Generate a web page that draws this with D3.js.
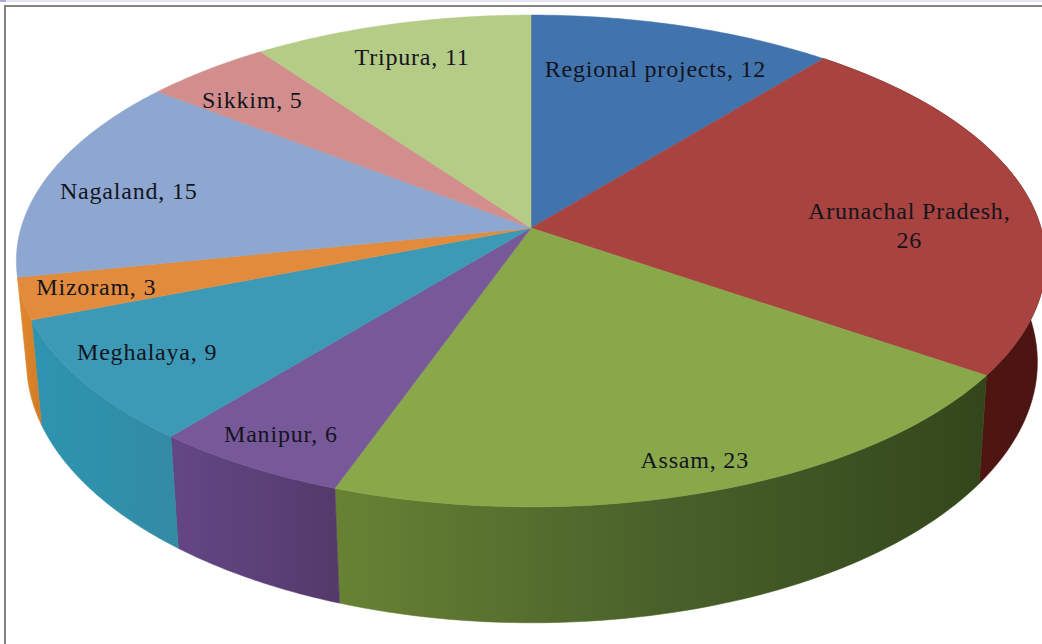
<!DOCTYPE html>
<html><head><meta charset="utf-8">
<script src="https://cdn.jsdelivr.net/npm/d3@7/dist/d3.min.js"></script>
<style>html,body{margin:0;padding:0;background:#fff;overflow:hidden}svg{display:block}</style>
</head><body><div id="chart"></div>
<script>
const categories = ["Regional projects","Arunachal Pradesh","Assam","Manipur","Meghalaya","Mizoram","Nagaland","Sikkim","Tripura"];
const values = [12,26,23,6,9,3,15,5,11];
const topColors = ["#4173ad","#a8433f","#88a84a","#77599a","#3d9ab6","#e28b3c","#8da7d0","#d18e8c","#b5cc87"];
const sideLeft = ["#2f5078","#5a1a16","#688234","#634684","#2f94b0","#e0892f","#8da7d0","#d18e8c","#b5cc87"];
const sideMid = ["#2f5078","#52170f","#48612a","#5c4078","#2f90aa","#d98229","#8da7d0","#d18e8c","#b5cc87"];
const sideRight = ["#2f5078","#4a1412","#33461b","#54396a","#338aa3","#d07a28","#8da7d0","#d18e8c","#b5cc87"];
const labelLines = [["Regional projects, 12"],["Arunachal Pradesh,","26"],["Assam, 23"],["Manipur, 6"],["Meghalaya, 9"],["Mizoram, 3"],["Nagaland, 15"],["Sikkim, 5"],["Tripura, 11"]];
const labelNudge = [[7,-3],[5,23],[33,42],[-44,33],[-55,11],[-57,6],[-38,3],[-30,-7],[-11,-14]];

const W=1042,H=644;
const svg=d3.select("#chart").append("svg").attr("width",W).attr("height",H);
const defs=svg.append("defs");

// perspective view of a circular disc
const cx=531,cy=228,a=510,b=241.5,k=0.134;
function project(theta,r=1){
  const d=1+k*r*Math.cos(theta);
  return [cx+a*r*Math.sin(theta)/d, cy-b*r*Math.cos(theta)/d];
}
function projectBottom(theta){
  const [x,y]=project(theta);
  return [532+0.982*(x-531), y+108+0.06*(y-375)];
}
const pie=d3.pie().sort(null).value(d=>d)(values);
const line=d3.line();
const rim=(s,f)=>d3.range(0,61).map(i=>f(s.startAngle+(s.endAngle-s.startAngle)*i/60));

// background + frame
svg.append("rect").attr("width",W).attr("height",H).attr("fill","#fff");
svg.append("rect").attr("width",W).attr("height",2).attr("fill","#e4e4f2");
svg.append("rect").attr("width",6).attr("height",2).attr("fill","#a9a9dc");
svg.append("path").attr("d",`M5,${H+5}V6H${W+5}`).attr("fill","none").attr("stroke","#828282").attr("stroke-width",2);

// side walls
pie.forEach((s,i)=>{
  const top=rim(s,t=>project(t)), bot=rim(s,projectBottom).reverse();
  const xs=top.concat(bot).map(p=>p[0]);
  defs.append("linearGradient").attr("id","side"+i).attr("gradientUnits","userSpaceOnUse")
    .attr("x1",d3.min(xs)).attr("x2",d3.max(xs)).attr("y1",0).attr("y2",0)
    .call(g=>{g.append("stop").attr("offset",0).attr("stop-color",sideLeft[i]);
              g.append("stop").attr("offset",0.5).attr("stop-color",sideMid[i]);
              g.append("stop").attr("offset",1).attr("stop-color",sideRight[i]);});
});
pie.map((s,i)=>({s,i})).filter(o=>Math.cos(o.s.endAngle)<0)
  .forEach(({s,i})=>{
    const top=rim(s,t=>project(t)), bot=rim(s,projectBottom).reverse();
    svg.append("path").attr("d",line(top.concat(bot))+"Z").attr("fill",`url(#side${i})`).attr("stroke",`url(#side${i})`).attr("stroke-width",.6);
  });

// top faces
pie.forEach((s,i)=>{
  const pts=[[cx,cy]].concat(rim(s,t=>project(t)));
  svg.append("path").attr("d",line(pts)+"Z").attr("fill",topColors[i]).attr("stroke",topColors[i]).attr("stroke-width",.5);
});

// labels
pie.forEach((s,i)=>{
  const [x,y]=project((s.startAngle+s.endAngle)/2,0.75);
  const lines=labelLines[i], lh=29;
  const t=svg.append("text").attr("text-anchor","middle")
    .attr("font-family","'Liberation Serif',serif").attr("font-size",24).attr("letter-spacing",0.8).attr("fill","#14141e");
  lines.forEach((l,j)=>t.append("tspan").attr("x",x+labelNudge[i][0])
    .attr("y",y+labelNudge[i][1]+8+(j-(lines.length-1)/2)*lh).text(l));
});
</script></body></html>
